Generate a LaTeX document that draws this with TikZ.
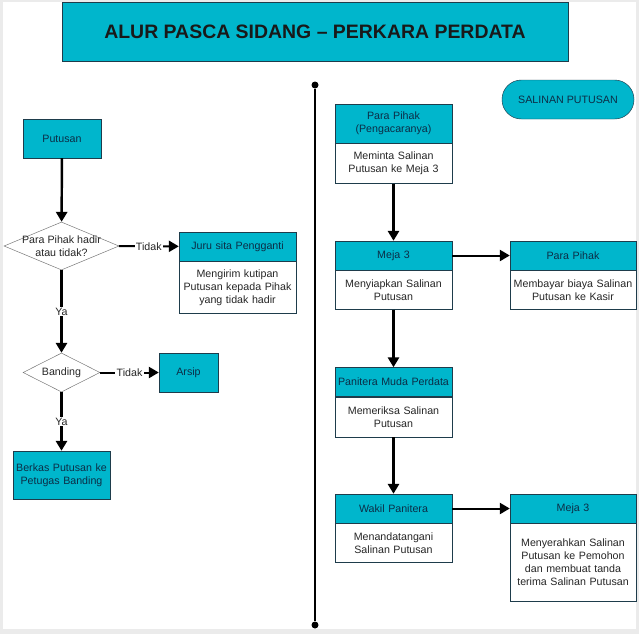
\documentclass[tikz,border=0pt]{standalone}
\usepackage{fontspec}
\setmainfont{Liberation Sans}
\usetikzlibrary{positioning,shapes.geometric,arrows.meta}
\definecolor{tosca}{RGB}{0,182,204}
\definecolor{garis}{RGB}{30,60,75}
\definecolor{teks}{RGB}{12,45,70}

\begin{document}
\begin{tikzpicture}[x=0.03cm,y=-0.03cm,
      font=\fontsize{9.1}{11.1}\selectfont,
      post/.style={-{Triangle[length=8.5pt,width=9.5pt]},line width=2.1pt},
      side/.style={-{Triangle[length=8.5pt,width=9.5pt]},line width=1.7pt},
      kotak/.style={draw=garis,fill=tosca,text=teks,align=center,inner sep=0pt},
      head/.style={kotak,text width=3.51cm,minimum height=0.87cm},
      body/.style={draw=garis,fill=white,text=black!85,align=center,inner sep=0pt,text width=3.51cm},
      decision/.style={diamond,draw=black!55,fill=white,inner sep=0pt},
      lbl/.style={fill=white,inner sep=1pt,text=black!85},
      dot/.style={circle,fill=black,inner sep=0pt,minimum size=0.21cm}
      ]
      \useasboundingbox (0,0) rectangle (639,634);
      \fill[black!8] (0,0) rectangle (639,634);
      \fill[white] (3,2) rectangle (636,629);

      \node[kotak, minimum width=15.18cm, minimum height=1.77cm, text=black!90,
        font=\fontsize{16.6}{19}\selectfont\bfseries] (judul) at (315,31.5)
        {ALUR PASCA SIDANG – PERKARA PERDATA};

      \node[dot] (atas) at (315,85) {};
      \node[dot] (bawah) at (315,625) {};
      \draw[line width=1.7pt] (atas)--(bawah);

      \node[kotak, minimum width=3.96cm, minimum height=1.17cm, rounded corners=0.58cm]
        (salinan) at (568,99.5) {SALINAN PUTUSAN};

      % kiri
      \node[kotak, minimum width=2.34cm, minimum height=1.17cm] (putusan) at (62,138.5) {Putusan};
      \node[decision, minimum width=3.45cm, minimum height=1.44cm,
        label={[align=center,text=black!85]center:Para Pihak hadir\\atau tidak?}] (d1) at (61.5,246) {};
      \node[head] (juru) at (237.5,246.5) {Juru sita Pengganti};
      \node[body, below=0pt of juru, minimum height=1.56cm] (bjuru)
        {Mengirim kutipan\\Putusan kepada Pihak\\yang tidak hadir};
      \node[decision, minimum width=2.31cm, minimum height=1.17cm,
        label={[text=black!85]center:Banding}] (d2) at (61.5,372.5) {};
      \node[kotak, minimum width=1.77cm, minimum height=1.17cm] (arsip) at (188.5,372.5) {Arsip};
      \node[kotak, text width=2.91cm, minimum height=1.44cm] (berkas) at (61.5,475)
        {Berkas Putusan ke\\Petugas Banding};

      \draw[post] (putusan)--(d1);
      \draw[side] (d1)-- node[lbl] {Tidak} (juru);
      \draw[post] (d1)-- node[lbl] {Ya} (d2);
      \draw[side] (d2)-- node[lbl] {Tidak} (arsip);
      \draw[post] (d2)-- node[lbl] {Ya} (berkas);

      % kanan
      \node[head, minimum height=1.17cm] (pp1) at (393.5,123.5) {Para Pihak\\(Pengacaranya)};
      \node[body, below=0pt of pp1, minimum height=1.2cm] (b1) {Meminta Salinan\\Putusan ke Meja 3};
      \node[head] (m3) at (393.5,255.5) {Meja 3};
      \node[body, below=0pt of m3, minimum height=1.17cm] (b2) {Menyiapkan Salinan\\Putusan};
      \node[head, text width=3.78cm] (pp2) at (573,255.5) {Para Pihak};
      \node[body, below=0pt of pp2, text width=3.78cm, minimum height=1.17cm] (b3)
        {Membayar biaya Salinan\\Putusan ke Kasir};
      \node[head] (pm) at (393.5,382) {Panitera Muda Perdata};
      \node[body, below=0pt of pm, minimum height=1.2cm] (b4) {Memeriksa Salinan\\Putusan};
      \node[head] (wp) at (393.5,508.5) {Wakil Panitera};
      \node[body, below=0pt of wp, minimum height=1.17cm] (b5) {Menandatangani\\Salinan Putusan};
      \node[head, text width=3.78cm] (m3b) at (573,508.5) {Meja 3};
      \node[body, below=0pt of m3b, text width=3.78cm, minimum height=2.34cm] (b6)
        {Menyerahkan Salinan\\Putusan ke Pemohon\\dan membuat tanda\\terima Salinan Putusan};

      \draw[post] (b1)--(m3);
      \draw[side] (m3)--(pp2);
      \draw[post] (b2)--(pm);
      \draw[post] (b4)--(wp);
      \draw[side] (wp)--(m3b);
    \end{tikzpicture}
\end{document}
